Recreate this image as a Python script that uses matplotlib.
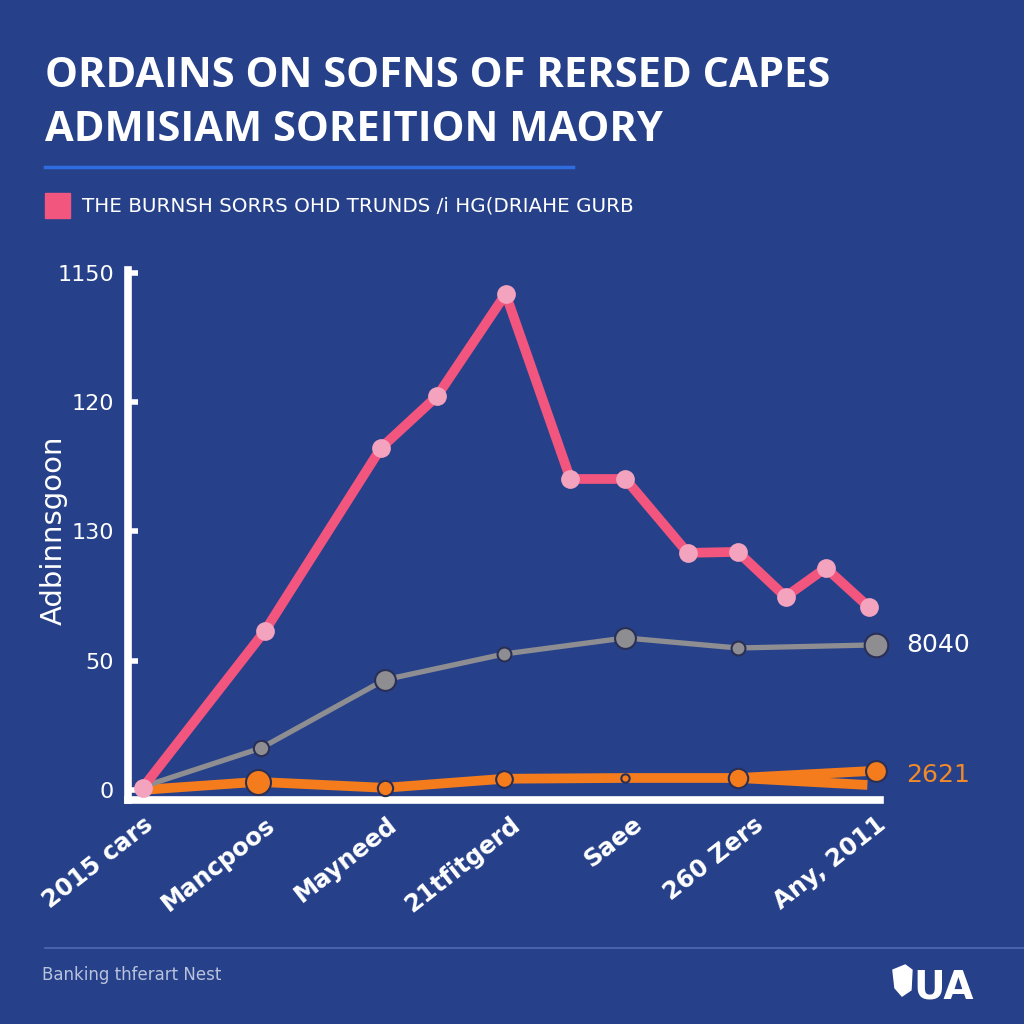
import numpy as np
import matplotlib.pyplot as plt
import matplotlib.transforms as mtransforms
from matplotlib.patches import Rectangle, Polygon
from matplotlib.lines import Line2D

bg = '#26418A'

# x categories (positions 0..6) and labels
cats = ['2015 cars', 'Mancpoos', 'Mayneed', '21tfitgerd', 'Saee', '260 Zers', 'Any, 2011']
y_ticks = [0, 50, 100, 150, 200]
y_ticklabels = ['0', '50', '130', '120', '1150']

pink_x = [0, 1.0, 1.95, 2.41, 2.97, 3.50, 3.95, 4.46, 4.87, 5.26, 5.59, 5.94]
pink_y = [0.8, 61.5, 132.3, 152.4, 191.9, 120.3, 120.3, 91.7, 92.1, 74.7, 85.9, 70.8]

gray_x = [0, 0.97, 1.98, 2.96, 3.95, 4.87, 6.0]
gray_y = [1.2, 16.2, 42.6, 52.6, 58.8, 54.9, 56.1]

orange_x = [0, 0.94, 1.98, 2.96, 3.95, 4.87, 6.0]
orange_y = [0.0, 3.1, 0.8, 4.3, 4.6, 4.6, 7.4]
orange_tail_x = [4.87, 5.93]
orange_tail_y = [4.6, 1.9]

end_labels = ['8040', '2621']

gray_ms = [0, 11, 15, 10, 15, 10, 17]
orange_ms = [0, 18, 11, 12, 6, 14, 15]

plt.rcParams['font.family'] = ['DejaVu Sans']
fig = plt.figure(figsize=(10.24, 10.24), dpi=100, facecolor=bg)
ax = fig.add_axes([0.125, 0.2188, 0.734, 0.5176], facecolor=bg)

ax.plot(orange_tail_x, orange_tail_y, color='#F57C1C', lw=7, solid_capstyle='butt', zorder=3)
ax.plot(orange_x, orange_y, color='#F57C1C', lw=7, zorder=3)
for xv, yv, ms in zip(orange_x, orange_y, orange_ms):
    if ms:
        ax.plot(xv, yv, 'o', ms=ms, color='#F57C1C', mec='#2A2F55', mew=1.5, zorder=4, clip_on=False)

ax.plot(gray_x, gray_y, color='#8E8E92', lw=3.8, zorder=5)
for xv, yv, ms in zip(gray_x, gray_y, gray_ms):
    if ms:
        ax.plot(xv, yv, 'o', ms=ms, color='#8E8E92', mec='#2A2F55', mew=1.5, zorder=6, clip_on=False)

ax.plot(pink_x, pink_y, color='#F2557E', lw=7, zorder=7, clip_on=False)
ax.plot(pink_x, pink_y, 'o', ms=13.5, color='#F4A3BF', mec='none', zorder=8, clip_on=False)

ax.set_xlim(-0.12, 6.03)
ax.set_ylim(-3.9, 201.2)
ax.set_xticks(range(len(cats)))
ax.set_xticklabels(cats, rotation=38, ha='right', va='top', rotation_mode='anchor',
                   fontsize=17.5, color='white', fontweight='bold')
shift = mtransforms.ScaledTranslation(0.08, 0, fig.dpi_scale_trans)
for lab in ax.get_xticklabels():
    lab.set_transform(lab.get_transform() + shift)
ax.set_yticks(y_ticks)
ax.set_yticklabels(y_ticklabels, fontsize=16, color='white')
ax.tick_params(axis='y', direction='in', length=7, width=4, color='white', pad=10)
ax.tick_params(axis='x', length=0, pad=9)
for s in ['top', 'right']:
    ax.spines[s].set_visible(False)
for s in ['left', 'bottom']:
    ax.spines[s].set_color('white')
    ax.spines[s].set_linewidth(5.5)
ax.set_ylabel('Adbinnsgoon', fontsize=21, color='white')
ax.yaxis.set_label_coords(-0.08, 0.508)

# end labels
ax.annotate(end_labels[0], (gray_x[-1], gray_y[-1]), xytext=(22, 0), textcoords='offset points',
            color='white', fontsize=18, va='center', annotation_clip=False)
ax.annotate(end_labels[1], (orange_x[-1], orange_y[-1]), xytext=(22, -3), textcoords='offset points',
            color='#F08A2A', fontsize=18, va='center', annotation_clip=False)

# title block
fig.text(0.044, 0.925, 'ORDAINS ON SOFNS OF RERSED CAPES', fontsize=30, fontweight='bold',
         color='white', va='center', family='Open Sans')
fig.text(0.044, 0.873, 'ADMISIAM SOREITION MAORY', fontsize=30, fontweight='bold',
         color='white', va='center', family='Open Sans')
fig.add_artist(Line2D([0.044, 0.56], [0.837, 0.837], color='#2F6CE0', lw=2.5))

fig.add_artist(Rectangle((0.044, 0.787), 0.024, 0.025, color='#F2557E', transform=fig.transFigure))
fig.text(0.08, 0.799, 'THE BURNSH SORRS OHD TRUNDS /i HG(DRIAHE GURB', fontsize=14.3,
         color='white', va='center')

# footer
fig.add_artist(Line2D([0.044, 1.0], [0.074, 0.074], color='#4F6BB3', lw=1.2))
fig.text(0.041, 0.048, 'Banking thferart Nest', fontsize=12, color='#B9C2DC', va='center')
fig.add_artist(Polygon([[0.872, 0.0527], [0.884, 0.0576], [0.8906, 0.0527], [0.8896, 0.0332],
                        [0.8809, 0.0273], [0.874, 0.0352]], closed=True, color='white',
                       transform=fig.transFigure))
fig.text(0.892, 0.036, 'UA', fontsize=28, fontweight='bold', color='white', va='center')

fig.savefig('out.png', dpi=100, facecolor=bg)
